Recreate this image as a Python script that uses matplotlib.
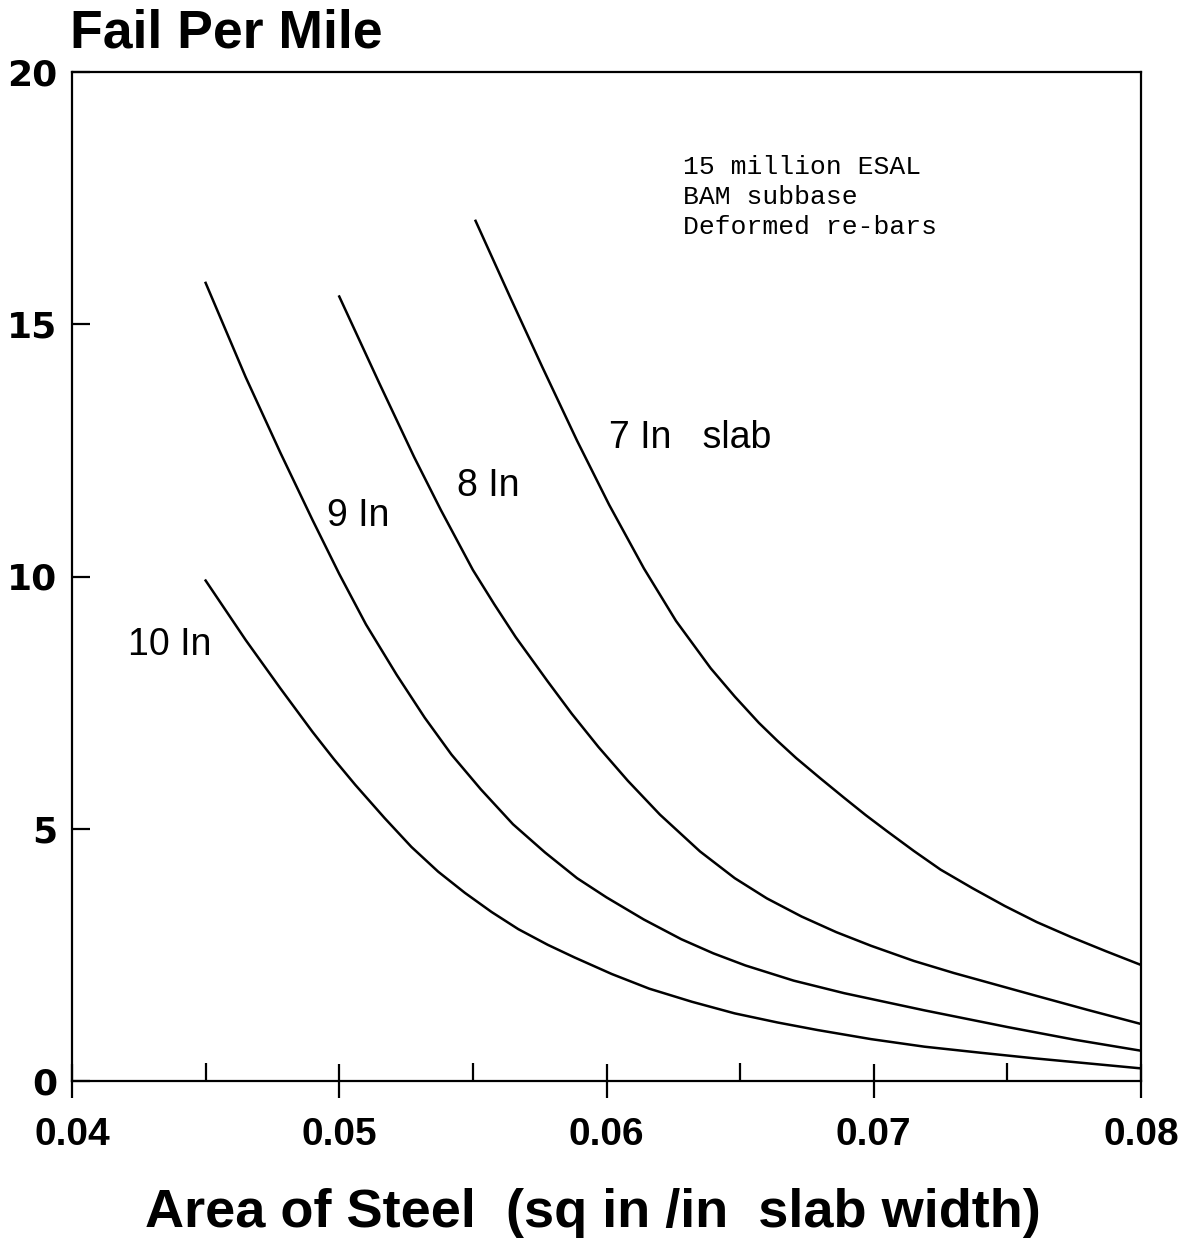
import matplotlib
matplotlib.use("Agg")
import matplotlib.pyplot as plt
from matplotlib.ticker import MultipleLocator

# ---- data ----
x_7in = [0.0551, 0.0564, 0.0576, 0.0589, 0.0601, 0.0614, 0.0626, 0.0639, 0.0648, 0.0657,
         0.0664, 0.0671, 0.0680, 0.0689, 0.0697, 0.0705, 0.0715, 0.0725, 0.0737, 0.0749,
         0.0761, 0.0774, 0.0787, 0.0800]
y_7in = [17.05, 15.53, 14.15, 12.69, 11.42, 10.16, 9.12, 8.18, 7.62, 7.10,
         6.74, 6.40, 6.00, 5.61, 5.27, 4.95, 4.56, 4.19, 3.82, 3.47,
         3.15, 2.85, 2.57, 2.30]

x_8in = [0.0500, 0.0515, 0.0528, 0.0538, 0.0550, 0.0558, 0.0566, 0.0578, 0.0587, 0.0597,
         0.0608, 0.0620, 0.0635, 0.0648, 0.0660, 0.0673, 0.0686, 0.0699, 0.0715, 0.0730,
         0.0745, 0.0760, 0.0780, 0.0800]
y_8in = [15.55, 13.83, 12.37, 11.32, 10.13, 9.45, 8.80, 7.92, 7.28, 6.62,
         5.95, 5.28, 4.55, 4.02, 3.62, 3.26, 2.95, 2.68, 2.38, 2.14,
         1.92, 1.70, 1.41, 1.13]

x_9in = [0.0450, 0.0465, 0.0478, 0.0490, 0.0500, 0.0510, 0.05215, 0.0532, 0.0542, 0.0553,
         0.0565, 0.0577, 0.0589, 0.0600, 0.0614, 0.0628, 0.0640, 0.0652, 0.0670, 0.0689,
         0.0719, 0.0750, 0.0775, 0.0800]
y_9in = [15.82, 13.95, 12.45, 11.12, 10.05, 9.05, 8.05, 7.20, 6.47, 5.78,
         5.09, 4.53, 4.02, 3.64, 3.20, 2.81, 2.53, 2.29, 1.99, 1.74,
         1.40, 1.07, 0.82, 0.60]

x_10in = [0.0450, 0.0465, 0.0478, 0.0490, 0.0498, 0.0506, 0.0517, 0.0527, 0.0537, 0.0547,
          0.0557, 0.0567, 0.0578, 0.0588, 0.0602, 0.0616, 0.0632, 0.0648, 0.0664, 0.0679,
          0.0699, 0.0719, 0.0740, 0.0760, 0.0780, 0.0800]
y_10in = [9.92, 8.74, 7.78, 6.92, 6.38, 5.87, 5.21, 4.64, 4.15, 3.73,
          3.35, 3.01, 2.70, 2.45, 2.12, 1.83, 1.57, 1.34, 1.16, 1.01,
          0.83, 0.68, 0.56, 0.45, 0.35, 0.25]

curve_labels = ["7 In   slab", "8 In", "9 In", "10 In"]
label_pos = [(0.0601, 12.75), (0.0544, 11.80), (0.04955, 11.19), (0.0421, 8.64)]

x_ticks = [0.04, 0.05, 0.06, 0.07, 0.08]
x_ticklabels = ["0.04", "0.05", "0.06", "0.07", "0.08"]
y_ticks = [0, 5, 10, 15, 20]
y_ticklabels = ["0", "5", "10", "15", "20"]

note_lines = ["15 million ESAL", "BAM subbase", "Deformed re-bars"]
title_text = "Fail Per Mile"
xlabel_text = "Area of Steel  (sq in /in  slab width)"

# ---- figure ----
W, H = 1193, 1241
fig = plt.figure(figsize=(W / 100, H / 100), dpi=100)
ax = fig.add_axes([72 / W, (H - 1081) / H, (1141 - 72) / W, (1081 - 72) / H])

lw = 1.8
for xs, ys in [(x_7in, y_7in), (x_8in, y_8in), (x_9in, y_9in), (x_10in, y_10in)]:
    ax.plot(xs, ys, color="black", lw=lw, solid_joinstyle="round")

ax.set_xlim(0.04, 0.08)
ax.set_ylim(0, 20)

for sp in ax.spines.values():
    sp.set_linewidth(1.6)

sans = ["Liberation Sans", "DejaVu Sans"]

ax.set_xticks(x_ticks)
ax.set_xticklabels(x_ticklabels, fontsize=28, fontweight="bold", family=sans)
ax.xaxis.set_minor_locator(MultipleLocator(0.005))
ax.tick_params(axis="x", which="major", direction="inout", length=24, width=1.6, pad=14)
ax.tick_params(axis="x", which="minor", direction="in", length=13, width=1.6)

ax.set_yticks(y_ticks)
ax.set_yticklabels(y_ticklabels, fontsize=26, fontweight="bold",
                   family=["DejaVu Sans"])
ax.tick_params(axis="y", which="major", direction="in", length=13, width=1.6, pad=10.5)

for lab, (lx, ly) in zip(curve_labels, label_pos):
    ax.text(lx, ly, lab, fontsize=27, family=sans, ha="left", va="center")

ax.text(0.06286, 18.35, "\n".join(note_lines), fontsize=19,
        family=["Liberation Mono", "DejaVu Sans Mono"], ha="left", va="top",
        linespacing=1.3)

fig.text(70 / W, (H - 48) / H, title_text, fontsize=38.5, fontweight="bold",
         family=sans, ha="left", va="baseline")
fig.text(593 / W, (H - 1227) / H, xlabel_text, fontsize=39, fontweight="bold",
         family=sans, ha="center", va="baseline")

fig.savefig("out.png", dpi=100, facecolor="white")
